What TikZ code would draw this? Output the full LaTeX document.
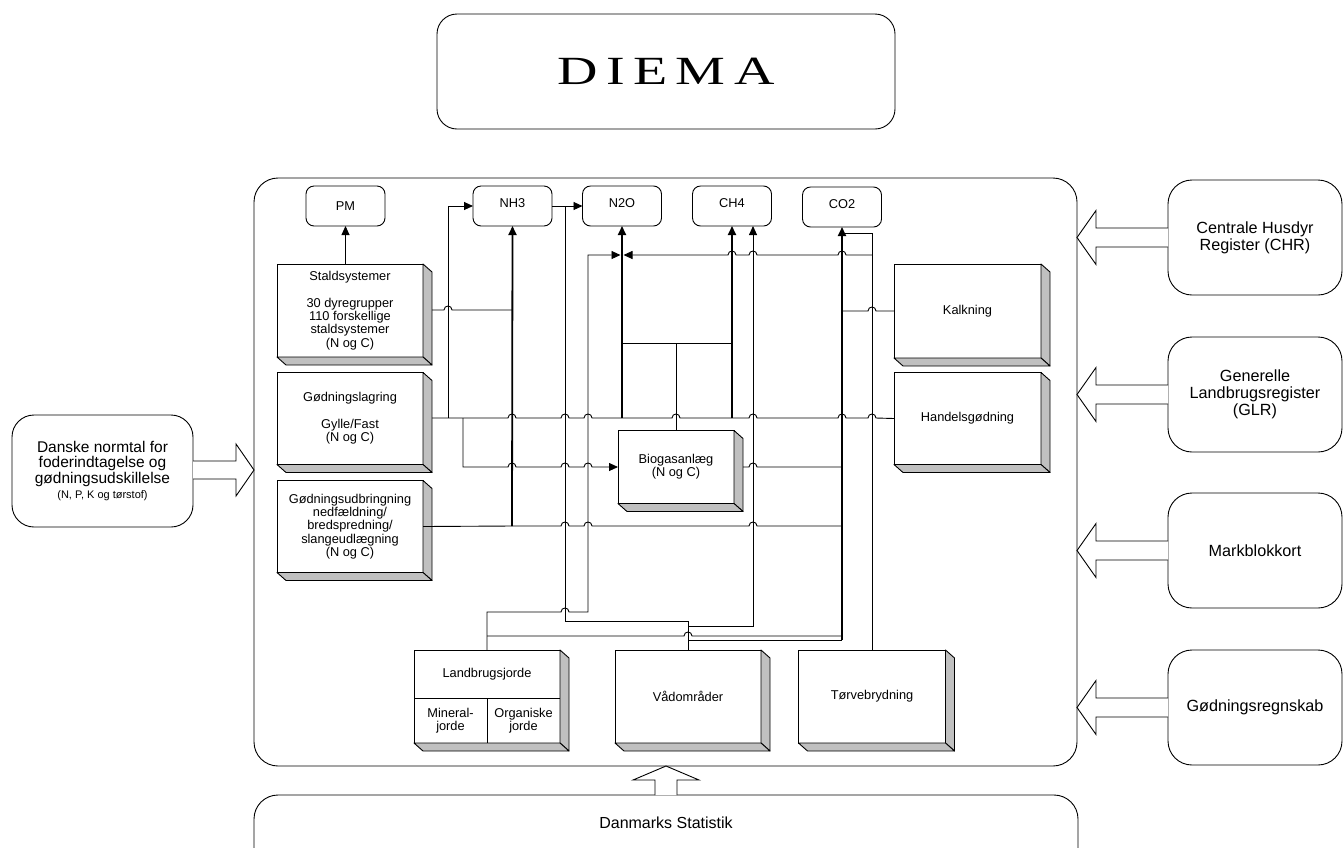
\documentclass[tikz,border=0pt]{standalone}
\usepackage{fontspec}
\setmainfont{Liberation Sans}
\newfontfamily\diemafont{Liberation Serif}
\usetikzlibrary{arrows.meta}
\definecolor{sidegray}{RGB}{192,192,192}
\newcommand\hopR[2]{-- ({#1-4},#2) .. controls ({#1-4},{#2-5.3}) and ({#1+4},{#2-5.3}) .. ({#1+4},#2)}
\newcommand\hopL[2]{-- ({#1+4},#2) .. controls ({#1+4},{#2-5.3}) and ({#1-4},{#2-5.3}) .. ({#1-4},#2)}
\newcommand\extrude[1]{%
  \filldraw[fill=sidegray,line width=0.9pt,line join=round] (#1.north east) -- ([shift={(9,8)}]#1.north east) -- ([shift={(9,8)}]#1.south east) -- (#1.south east) -- cycle;
  \filldraw[fill=sidegray,line width=0.9pt,line join=round] (#1.south west) -- ([shift={(9,8)}]#1.south west) -- ([shift={(9,8)}]#1.south east) -- (#1.south east) -- cycle;}
\newcommand\blockL[1]{%
  \filldraw[fill=white,line width=0.9pt] (1168,{#1-9.5}) -- (1096,{#1-9.5}) -- (1096,{#1-27}) -- (1077,#1) -- (1096,{#1+27}) -- (1096,{#1+9.5}) -- (1168,{#1+9.5});}
\begin{document}
\begin{tikzpicture}[x=1pt,y=-1pt,
  every node/.style={inner sep=0pt,outer sep=0pt},
  lab/.style={font=\fontsize{12.8}{13.3}\selectfont,align=center},
  big/.style={font=\fontsize{16.2}{17}\selectfont,align=center},
  face/.style={draw,fill=white,line width=0.9pt,lab},
  gas/.style={draw,rounded corners=8pt,minimum width=79pt,minimum height=40pt,line width=0.9pt,lab},
  src/.style={draw,rounded corners=24pt,minimum width=174pt,minimum height=115pt,line width=0.9pt,big},
  tn/.style={line width=0.9pt},
  tk/.style={line width=1.8pt},
  arr/.style={-{Triangle[length=9pt,width=8pt]}}]
\useasboundingbox (0,0) rectangle (1343,847);

% frames
\node[draw,rounded corners=20pt,minimum width=458pt,minimum height=115pt,line width=0.9pt] (diema) at (666,71.5)
  {\diemafont\fontsize{40}{40}\selectfont\scalebox{1.4}[1]{D\hspace{6pt}I\hspace{6pt}E\hspace{6pt}M\hspace{6pt}A}};
\node[draw,rounded corners=24pt,minimum width=823pt,minimum height=588pt,line width=0.9pt] (main) at (665.5,472) {};
\node[draw,rounded corners=24pt,minimum width=824pt,minimum height=110pt,line width=0.9pt,anchor=north] (stat) at (666,795) {};
\node[font=\fontsize{16}{17}\selectfont] (statlab) at (666,823) {Danmarks Statistik};

% external sources
\node[draw,rounded corners=22pt,minimum width=181pt,minimum height=112pt,line width=0.9pt,align=center,font=\fontsize{15.5}{15.5}\selectfont] (dn) at (102.5,471)
  {Danske normtal for\\foderindtagelse og\\gødningsudskillelse\\{\fontsize{11}{12}\selectfont (N, P, K og tørstof)}};
\node[src] (chr) at (1255,237.5) {Centrale Husdyr\\Register (CHR)};
\node[src] (glr) at (1255,394.5) {Generelle\\Landbrugsregister\\(GLR)};
\node[src] (mbk) at (1255,550.5) {Markblokkort};
\node[src] (gr) at (1255,707.5) {Gødningsregnskab};

% block arrows
\filldraw[fill=white,tn] (193,461) -- (236,461) -- (236,444) -- (254,470) -- (236,496) -- (236,479) -- (193,479);
\blockL{237.5}
\blockL{394.5}
\blockL{550.5}
\blockL{707.5}
\filldraw[fill=white,tn] (655,795) -- (655,780) -- (633,780) -- (666,766) -- (699,780) -- (677,780) -- (677,795);

% gases
\node[gas] (pm) at (345.5,206) {PM};
\node[gas] (nh3) at (512.5,206) {\raisebox{6pt}{NH3}};
\node[gas] (n2o) at (622,206) {\raisebox{6pt}{N2O}};
\node[gas] (ch4) at (732,206) {\raisebox{6pt}{CH4}};
\node[gas] (co2) at (842,207) {\raisebox{6pt}{CO2}};

% 3D boxes
\node[face,minimum width=146pt,minimum height=93pt] (stald) at (350,310.5) {Staldsystemer\\[13.3pt]30 dyregrupper\\110 forskellige\\staldsystemer\\(N og C)};
\node[face,minimum width=146pt,minimum height=92pt] (gl) at (350,418.5) {Gødningslagring\\[13.3pt]Gylle/Fast\\(N og C)};
\node[face,minimum width=146pt,minimum height=92pt] (gu) at (350,526.5) {Gødningsudbringning\\nedfældning/\\bredspredning/\\slangeudlægning\\(N og C)};
\node[face,minimum width=116pt,minimum height=73pt] (bio) at (676,467) {Biogasanlæg\\(N og C)};
\node[face,minimum width=147pt,minimum height=94pt] (kalk) at (967.5,311) {Kalkning};
\node[face,minimum width=147pt,minimum height=92pt] (handel) at (967.5,418.5) {Handelsgødning};
\node[face,minimum width=146pt,minimum height=93pt] (land) at (487,696.5) {};
\node[face,minimum width=146pt,minimum height=93pt] (vad) at (688,696.5) {Vådområder};
\node[face,minimum width=147pt,minimum height=93pt] (torv) at (872,696.5) {Tørvebrydning};
\foreach \b in {stald,gl,gu,bio,kalk,handel,land,vad,torv}{\extrude{\b}}
\draw[tn] (414,698) -- (560,698);
\draw[tn] (487,698) -- (487,743);
\node[lab] (landt) at (487,674) {Landbrugsjorde};
\node[lab] (minj) at (450.5,720.5) {Mineral-\\jorde};
\node[lab] (orgj) at (523.5,720.5) {Organiske\\jorde};

% connectors
\draw[tn,arr] (pm.south |- stald.north) -- (pm.south);
\draw[tn] (432,310) \hopR{448}{310} -- (512,310);
\draw[tk,arr] (512,526) -- (nh3.south);
\draw[tn] (432,418) -- (463,418) \hopR{512}{418} \hopR{565}{418} \hopR{588}{418} -- (622,418) \hopR{676}{418} -- (732,418) \hopR{753}{418} \hopR{842}{418} \hopR{872}{418} -- (handel.west);
\draw[tn,arr] (448,418) -- (448,206) -- (nh3.west);
\draw[tn,arr] (nh3.east) -- (n2o.west);
\draw[tn] (vad.north) -- (688,621) -- (565,621) -- (565,206);
\draw[tn,arr] (688,626) -- (753,626) -- (753,226);
\draw[tn] (688,640) -- (842,640);
\draw[tn,arr] (land.north) -- (487,612) \hopR{565}{612} -- (588,612) -- (588,255) -- (620.5,255);
\draw[tn] (487,636) \hopR{688}{636} -- (842,636);
\draw[tk,arr] (842,640) -- (co2.south);
\draw[tn] (torv.north) -- (872,233) -- (842,233);
\draw[tn,arr] (872,255) \hopL{842}{255} \hopL{753}{255} \hopL{732}{255} -- (623.5,255);
\draw[tn] (kalk.west) \hopL{872}{311} -- (842,311);
\draw[tn,arr] (463,418) -- (463,467) \hopR{512}{467} \hopR{565}{467} \hopR{588}{467} -- (bio.west);
\draw[tn] (743,467) \hopR{753}{467} -- (842,467);
\draw[tn] (bio.north) -- (676,343);
\draw[tn] (622,343) -- (732,343);
\draw[tn] (gu.east) -- (512,526) \hopR{565}{526} \hopR{588}{526} \hopR{753}{526} -- (842,526);
\draw[tk,arr] (622,418) -- (n2o.south);
\draw[tk,arr] (732,418) -- (ch4.south);
\end{tikzpicture}
\end{document}
